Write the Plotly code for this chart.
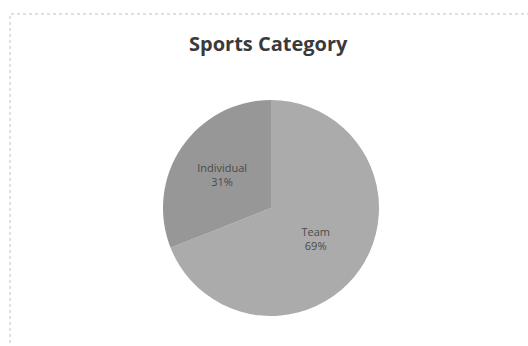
import plotly.graph_objects as go

categories = ["Team", "Individual"]
values = [69, 31]
colors = ["#ababab", "#979797"]

W, H = 528, 346
cx, cy, r = 271, 208, 108

fig = go.Figure(go.Pie(
    labels=categories,
    values=values,
    sort=False,
    direction="clockwise",
    rotation=0,
    marker=dict(colors=colors, line=dict(width=0)),
    textinfo="label+percent",
    texttemplate="%{label}<br>%{percent:.0%}",
    textposition="inside",
    insidetextorientation="horizontal",
    textfont=dict(family="Open Sans", size=11, color="#4a4a4a"),
    domain=dict(x=[(cx - r) / W, (cx + r) / W], y=[(H - cy - r) / H, (H - cy + r) / H]),
    showlegend=False,
    hoverinfo="label+percent",
))

fig.update_layout(
    width=W, height=H,
    margin=dict(l=0, r=0, t=0, b=0),
    paper_bgcolor="white",
    plot_bgcolor="white",
    title=dict(text="<b>Sports Category</b>", x=0.508, xanchor="center",
               y=1 - 44 / H, yanchor="middle",
               font=dict(family="Open Sans", size=20, color="#3a3a3a")),
    shapes=[dict(type="rect", xref="paper", yref="paper",
                 x0=10 / W, x1=1.02, y0=-0.02, y1=1 - 14 / H,
                 line=dict(color="#c0c0c0", width=1, dash="dot"))],
)

fig.write_html("out.html")
